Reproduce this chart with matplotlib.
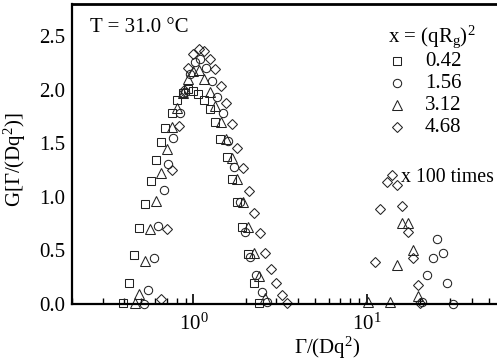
import matplotlib
matplotlib.use("Agg")
import matplotlib.pyplot as plt
from matplotlib.lines import Line2D

plt.rcParams['font.family'] = ['Liberation Serif', 'DejaVu Serif']
plt.rcParams['mathtext.fontset'] = 'custom'
plt.rcParams['mathtext.rm'] = 'Liberation Serif'
plt.rcParams['mathtext.it'] = 'Liberation Serif:italic'
plt.rcParams['mathtext.default'] = 'regular'

# main peak, x = (qRg)^2 = 0.42 (squares)
gamma_sq = [0.391, 0.423, 0.452, 0.483, 0.523, 0.566, 0.605, 0.646, 0.690, 0.748, 0.809, 0.865, 0.936,
            1.000, 1.068, 1.157, 1.252, 1.338, 1.430, 1.567, 1.675, 1.790, 1.913, 2.070, 2.243, 2.395]
g_sq = [0.01, 0.20, 0.46, 0.71, 0.93, 1.15, 1.34, 1.51, 1.64, 1.78, 1.90, 1.97, 2.01,
        1.99, 1.96, 1.90, 1.82, 1.70, 1.54, 1.37, 1.17, 0.95, 0.72, 0.47, 0.20, 0.01]

# 1.56 (circles), last points are the x100 fast mode
gamma_ci = [0.516, 0.545, 0.589, 0.629, 0.673, 0.718, 0.767, 0.831, 0.888, 0.961, 1.027, 1.097,
            1.188, 1.286, 1.374, 1.487, 1.589, 1.721, 1.862, 1.990, 2.127, 2.302, 2.492, 2.661,
            20.7, 22.1, 23.9, 25.3, 27.3, 28.8, 31.3]
g_ci = [0.00, 0.13, 0.43, 0.73, 1.06, 1.31, 1.55, 1.78, 1.98, 2.15, 2.26, 2.29,
        2.20, 2.08, 1.93, 1.78, 1.52, 1.28, 0.95, 0.67, 0.44, 0.27, 0.11, 0.02,
        0.02, 0.27, 0.43, 0.61, 0.48, 0.20, 0.00]

# 3.12 (triangles)
gamma_tr = [0.460, 0.483, 0.523, 0.559, 0.605, 0.646, 0.700, 0.748, 0.809, 0.865, 0.936, 1.000,
            1.083, 1.157, 1.252, 1.338, 1.449, 1.548, 1.675, 1.790, 1.937, 2.070, 2.243, 2.395, 2.593,
            10.1, 13.6, 14.9, 15.9, 17.2, 18.4, 19.6]
g_tr = [0.01, 0.09, 0.40, 0.70, 0.96, 1.22, 1.45, 1.65, 1.83, 1.97, 2.10, 2.17,
        2.18, 2.10, 1.98, 1.85, 1.70, 1.54, 1.36, 1.17, 0.95, 0.72, 0.48, 0.26, 0.06,
        0.02, 0.02, 0.36, 0.76, 0.76, 0.50, 0.07]

# 4.68 (diamonds)
gamma_di = [0.646, 0.700, 0.757, 0.820, 0.877, 0.936, 1.000, 1.083, 1.157, 1.252, 1.338, 1.449,
            1.548, 1.675, 1.790, 1.937, 2.099, 2.243, 2.427, 2.593, 2.806, 2.999, 3.246, 3.468,
            11.1, 11.9, 13.0, 13.9, 14.9, 15.9, 17.2, 18.4, 19.6, 20.2]
g_di = [0.05, 0.70, 1.25, 1.66, 2.00, 2.20, 2.33, 2.38, 2.36, 2.29, 2.19, 2.03,
        1.88, 1.68, 1.46, 1.27, 1.05, 0.85, 0.66, 0.48, 0.33, 0.20, 0.08, 0.01,
        0.39, 0.89, 1.14, 1.20, 1.11, 0.91, 0.67, 0.43, 0.18, 0.01]

labels = ['0.42', '1.56', '3.12', '4.68']
yticks = [0.0, 0.5, 1.0, 1.5, 2.0, 2.5]
fs = 15

fig = plt.figure(figsize=(4.97, 3.61), dpi=100)
# axes runs past the right edge like the cropped original
ax = fig.add_axes([0.1449, 0.158, 0.9437, 0.831])

series = [(gamma_sq, g_sq, 's', 5.6), (gamma_ci, g_ci, 'o', 6.0),
          (gamma_tr, g_tr, '^', 6.6), (gamma_di, g_di, 'D', 5.4)]
for gx, gy, m, ms in series:
    ax.plot(gx, gy, ls='none', marker=m, ms=ms, mfc='none', mec='#222222', mew=0.75, clip_on=False)

ax.set_xscale('log')
ax.set_xlim(0.2, 100)
ax.set_ylim(0, 2.8)
ax.set_yticks(yticks)
ax.set_yticklabels(['%.1f' % v for v in yticks])
ax.set_xticks([1, 10])
ax.set_xticklabels(['$10^0$', '$10^1$'])
ax.tick_params(axis='y', length=0, pad=5, labelsize=fs)
ax.tick_params(axis='x', which='major', direction='in', length=7, width=1.2, pad=7, labelsize=fs)
ax.tick_params(axis='x', which='minor', direction='in', length=4.5, width=1.0)

for s in ['left', 'bottom']:
    ax.spines[s].set_linewidth(1.6)
ax.spines['top'].set_linewidth(2.0)
ax.spines['right'].set_visible(False)

fig.text(15 / 497, 1 - 160 / 361, 'G[Γ/(Dq$^2$)]', rotation=90, ha='center', va='center', fontsize=fs)
fig.text(327 / 497, 1 - 348 / 361, 'Γ/(Dq$^2$)', ha='center', va='center', fontsize=fs)
fig.text(90 / 497, 1 - 28 / 361, 'T = 31.0 °C', ha='left', va='center', fontsize=fs)
fig.text(401 / 497, 1 - 177 / 361, 'x 100 times', ha='left', va='center', fontsize=14.3)

# legend
fig.text(388 / 497, 1 - 37 / 361, 'x = (qR$_g$)$^2$', ha='left', va='center', fontsize=fs)
marks = ['s', 'o', '^', 'D']
msz = [5.6, 6.0, 6.6, 5.4]
for i, (m, lab) in enumerate(zip(marks, labels)):
    yy = 1 - (61 + 22 * i) / 361
    fig.add_artist(Line2D([397 / 497], [yy], marker=m, ms=msz[i], mfc='none', mec='#222222', mew=0.75,
                          transform=fig.transFigure))
    fig.text(425 / 497, yy, lab, ha='left', va='center', fontsize=fs)

fig.savefig('out.png', dpi=100)
